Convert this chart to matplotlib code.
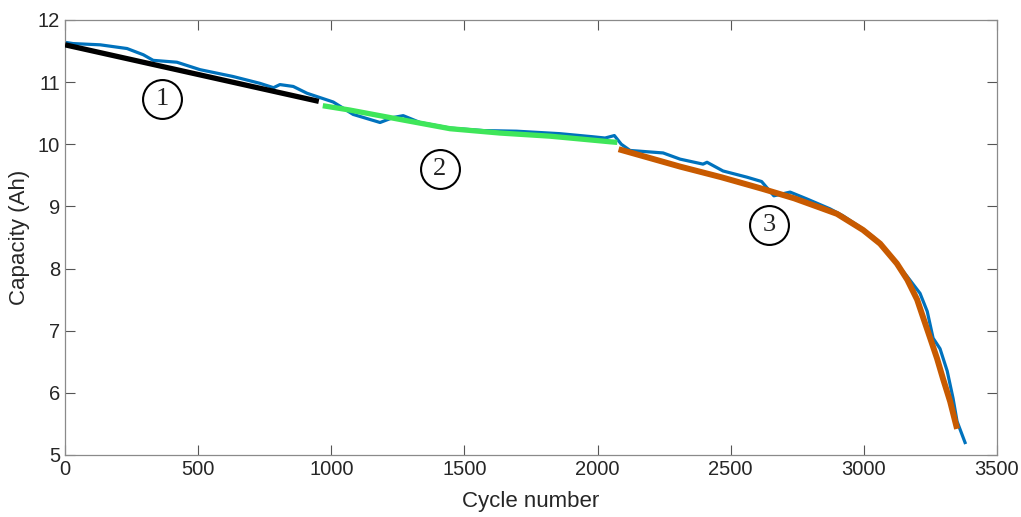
import matplotlib.pyplot as plt

# measured capacity (blue)
cycles = [0, 30, 132, 233, 294, 331, 420, 507, 631, 732, 783, 807, 857, 909,
          1007, 1082, 1183, 1232, 1270, 1333, 1446, 1570, 1696, 1859, 1983,
          2028, 2063, 2089, 2122, 2246, 2310, 2396, 2411, 2471, 2561, 2616,
          2662, 2723, 2786, 2873, 2921, 2985, 3035, 3099, 3163, 3211, 3238,
          3260, 3286, 3313, 3335, 3350, 3380]
capacity = [11.64, 11.62, 11.60, 11.54, 11.44, 11.35, 11.32, 11.20, 11.09,
            10.98, 10.91, 10.96, 10.93, 10.82, 10.68, 10.48, 10.35, 10.43,
            10.46, 10.35, 10.26, 10.22, 10.21, 10.17, 10.12, 10.10, 10.14,
            10.00, 9.90, 9.86, 9.76, 9.68, 9.71, 9.57, 9.47, 9.40, 9.17, 9.23,
            9.12, 8.96, 8.85, 8.67, 8.51, 8.21, 7.87, 7.60, 7.31, 6.88, 6.71,
            6.35, 5.91, 5.54, 5.20]

# fitted stages
stage1_x = [0, 953]
stage1_y = [11.60, 10.69]
stage2_x = [968, 1070, 1257, 1446, 1634, 1821, 2046, 2074]
stage2_y = [10.62, 10.55, 10.40, 10.25, 10.18, 10.13, 10.04, 10.03]
stage3_x = [2079, 2310, 2464, 2621, 2738, 2835, 2899, 2997, 3061, 3124,
            3163, 3200, 3222, 3249, 3275, 3297, 3324, 3350]
stage3_y = [9.92, 9.64, 9.47, 9.28, 9.13, 8.98, 8.88, 8.62, 8.40, 8.08,
            7.82, 7.50, 7.22, 6.88, 6.55, 6.23, 5.86, 5.42]

labels = ["1", "2", "3"]
label_x = [365, 1408, 2643]
label_y = [10.72, 9.6, 8.7]

plt.rcParams['font.family'] = ['Liberation Sans', 'DejaVu Sans']
txt = '#262626'

fig = plt.figure(figsize=(10.21, 5.17), dpi=100)
ax = fig.add_axes([0.0637, 0.12, 0.9128, 0.8414])

ax.plot(cycles, capacity, color='#0072BD', lw=2.3, zorder=2)
ax.plot(stage1_x, stage1_y, color='black', lw=3.8, solid_capstyle='butt', zorder=3)
ax.plot(stage2_x, stage2_y, color='#3FE65A', lw=3.8, solid_capstyle='butt', zorder=3)
ax.plot(stage3_x, stage3_y, color='#C85A00', lw=4.3, solid_capstyle='butt', zorder=3)

for lab, lx, ly in zip(labels, label_x, label_y):
    ax.plot(lx, ly, marker='o', ms=28, mfc='white', mec='black', mew=1.5, zorder=4)
    ax.text(lx, ly, lab, ha='center', va='center', fontsize=19,
            family='Liberation Serif', color='#222222', zorder=5)

ax.set_xlim(0, 3500)
ax.set_ylim(5, 12)
ax.set_xticks(range(0, 3501, 500))
ax.set_yticks(range(5, 13))
ax.tick_params(direction='in', length=7, width=0.8, colors='#555555',
               labelcolor=txt, labelsize=14.5, top=True, right=True)
for s in ax.spines.values():
    s.set_color('#8a8a8a')
    s.set_linewidth(0.9)
ax.set_xlabel('Cycle number', fontsize=16, color=txt, labelpad=9)
ax.set_ylabel('Capacity (Ah)', fontsize=16, color=txt, labelpad=6)

fig.savefig('out.png', dpi=100)
